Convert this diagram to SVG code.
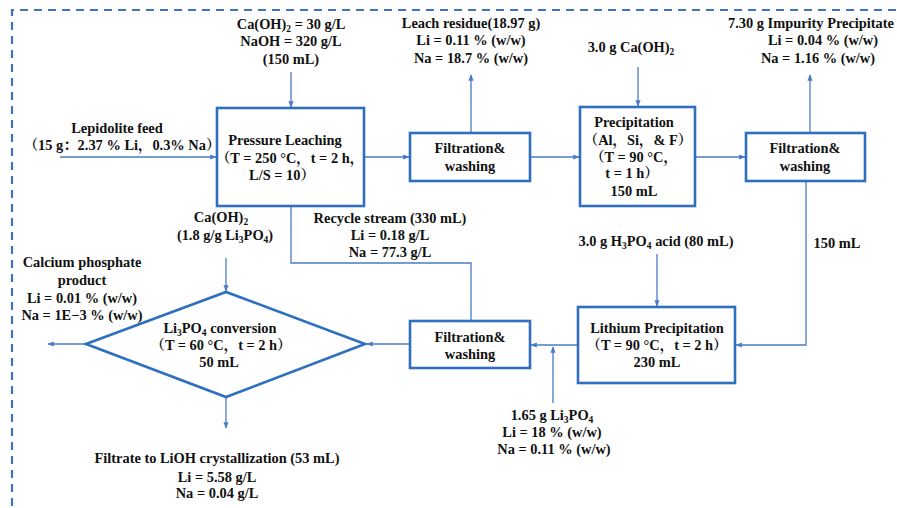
<svg xmlns="http://www.w3.org/2000/svg" width="897" height="508" viewBox="0 0 897 508">
<defs>
<style>
text{font-family:"Liberation Serif","Noto Serif CJK SC","Noto Sans CJK SC",serif;font-weight:bold;font-size:14.4px;fill:#111;text-anchor:middle}
.box{fill:#fff;stroke:#2f6fbf;stroke-width:2.6}
.c{fill:none;stroke:#4a7bc8;stroke-width:1.3}
.frame{fill:none;stroke:#3d72c6;stroke-width:2.2;stroke-dasharray:8 6}
.s{font-size:9.5px}
</style>
<marker id="a" viewBox="0 0 10 10" refX="9" refY="5" markerWidth="5" markerHeight="5" orient="auto-start-reverse">
<path d="M0,1 L10,5 L0,9 z" fill="#4a7bc8"/>
</marker>
</defs>
<rect width="897" height="508" fill="#fff"/>
<path class="frame" d="M12,520 V10 H897"/>

<g id="connectors">
<path class="c" d="M291,72 V107" marker-end="url(#a)"/>
<path class="c" d="M60,157 H216" marker-end="url(#a)"/>
<path class="c" d="M365,157 H409" marker-end="url(#a)"/>
<path class="c" d="M471,133 V75" marker-end="url(#a)"/>
<path class="c" d="M531,157 H579" marker-end="url(#a)"/>
<path class="c" d="M638,67 V106" marker-end="url(#a)"/>
<path class="c" d="M696,157 H745" marker-end="url(#a)"/>
<path class="c" d="M810,133 V75" marker-end="url(#a)"/>
<path class="c" d="M806,182 V345 H736" marker-end="url(#a)"/>
<path class="c" d="M657,254 V306" marker-end="url(#a)"/>
<path class="c" d="M577,345 H531" marker-end="url(#a)"/>
<path class="c" d="M553,403 V347" marker-end="url(#a)"/>
<path class="c" d="M471,320 V263 H291 V207"/>
<path class="c" d="M409,344 H367" marker-end="url(#a)"/>
<path class="c" d="M226,258 V291" marker-end="url(#a)"/>
<path class="c" d="M85,344 H48" marker-end="url(#a)"/>
<path class="c" d="M226,398 V428" marker-end="url(#a)"/>
</g>

<g id="feed-naoh">
<text x="291" y="29">Ca(OH)<tspan class="s" dy="3">2</tspan><tspan dy="-3"> = 30 g/L</tspan></text>
<text x="291" y="46">NaOH = 320 g/L</text>
<text x="291" y="64">(150 mL)</text>
</g>

<g id="lepidolite-feed">
<text x="117" y="133">Lepidolite feed</text>
<text x="122" y="150">（15 g：2.37 % Li，0.3% Na）</text>
</g>

<g id="pressure-leaching">
<rect class="box" x="217" y="108" width="147" height="98"/>
<text x="285" y="145">Pressure Leaching</text>
<text x="290" y="163">（T = 250 °C，t = 2 h，</text>
<text x="282" y="180">L/S = 10）</text>
</g>

<g id="filtration1">
<rect class="box" x="410" y="133" width="120" height="48"/>
<text x="470" y="153">Filtration&amp;</text>
<text x="470" y="171">washing</text>
</g>

<g id="leach-residue">
<text x="471" y="28">Leach residue(18.97 g)</text>
<text x="471" y="45">Li = 0.11 % (w/w)</text>
<text x="471" y="63">Na = 18.7 % (w/w)</text>
</g>

<g id="caoh-3g">
<text x="631" y="52">3.0 g Ca(OH)<tspan class="s" dy="3">2</tspan></text>
</g>

<g id="precipitation">
<rect class="box" x="580" y="107" width="115" height="99"/>
<text x="634" y="127">Precipitation</text>
<text x="638" y="145">（Al，Si，&amp; F）</text>
<text x="634" y="162">（T = 90 °C，</text>
<text x="632" y="178">t = 1 h）</text>
<text x="634" y="196">150 mL</text>
</g>

<g id="filtration2">
<rect class="box" x="746" y="133" width="119" height="48"/>
<text x="805" y="153">Filtration&amp;</text>
<text x="805" y="171">washing</text>
</g>

<g id="impurity-precipitate">
<text x="811" y="28">7.30 g Impurity Precipitate</text>
<text x="823" y="45">Li = 0.04 % (w/w)</text>
<text x="818" y="63">Na = 1.16 % (w/w)</text>
</g>

<g id="recycle-stream">
<text x="390" y="223">Recycle stream (330 mL)</text>
<text x="390" y="240">Li = 0.18 g/L</text>
<text x="390" y="257">Na = 77.3 g/L</text>
</g>

<g id="caoh-dose">
<text x="221" y="222">Ca(OH)<tspan class="s" dy="3">2</tspan></text>
<text x="225" y="240">(1.8 g/g Li<tspan class="s" dy="3">3</tspan><tspan dy="-3">PO</tspan><tspan class="s" dy="3">4</tspan><tspan dy="-3">)</tspan></text>
</g>

<g id="h3po4">
<text x="656" y="246">3.0 g H<tspan class="s" dy="3">3</tspan><tspan dy="-3">PO</tspan><tspan class="s" dy="3">4</tspan><tspan dy="-3"> acid (80 mL)</tspan></text>
</g>

<g id="flow-150">
<text x="837" y="248">150 mL</text>
</g>

<g id="calcium-phosphate">
<text x="82" y="267">Calcium phosphate</text>
<text x="82" y="285">product</text>
<text x="82" y="303">Li = 0.01 % (w/w)</text>
<text x="82" y="320">Na = 1E−3 % (w/w)</text>
</g>

<g id="li3po4-conversion">
<path class="box" d="M86,344 L226,292 L365,344 L226,397 Z"/>
<text x="220" y="333">Li<tspan class="s" dy="3">3</tspan><tspan dy="-3">PO</tspan><tspan class="s" dy="3">4</tspan><tspan dy="-3"> conversion</tspan></text>
<text x="221" y="350">（T = 60 °C，t = 2 h）</text>
<text x="219" y="367">50 mL</text>
</g>

<g id="filtration3">
<rect class="box" x="410" y="321" width="120" height="47"/>
<text x="470" y="342">Filtration&amp;</text>
<text x="470" y="359">washing</text>
</g>

<g id="lithium-precipitation">
<rect class="box" x="578" y="307" width="157" height="76"/>
<text x="657" y="333">Lithium Precipitation</text>
<text x="657" y="350">（T = 90 °C，t = 2 h）</text>
<text x="657" y="367">230 mL</text>
</g>

<g id="li3po4-product">
<text x="552" y="420">1.65 g Li<tspan class="s" dy="3">3</tspan><tspan dy="-3">PO</tspan><tspan class="s" dy="3">4</tspan></text>
<text x="552" y="437">Li = 18 % (w/w)</text>
<text x="554" y="454">Na = 0.11 % (w/w)</text>
</g>

<g id="filtrate-lioh">
<text x="217" y="463">Filtrate to LiOH crystallization (53 mL)</text>
<text x="217" y="482">Li = 5.58 g/L</text>
<text x="217" y="498">Na = 0.04 g/L</text>
</g>
</svg>
